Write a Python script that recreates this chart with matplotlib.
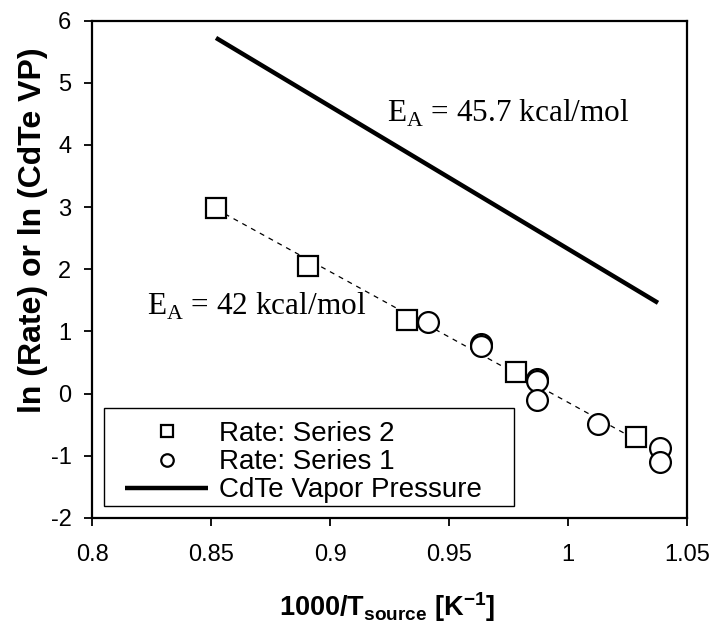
import numpy as np
import matplotlib
matplotlib.use("Agg")
import matplotlib.pyplot as plt
from matplotlib.patches import Rectangle
from matplotlib.lines import Line2D

plt.rcParams["axes.unicode_minus"] = False

# ---- data ----
s2_x = [0.852, 0.8906, 0.9324, 0.978, 1.0285]
s2_y = [2.98, 2.05, 1.18, 0.35, -0.70]
s1_x = [0.941, 0.9636, 0.9636, 0.987, 0.987, 0.987, 1.0125, 1.0386, 1.0386]
s1_y = [1.15, 0.79, 0.76, 0.24, 0.20, -0.10, -0.49, -0.88, -1.10]
vp_x = [0.852, 1.0378]
vp_y = [5.72, 1.46]
x_ticks = [0.8, 0.85, 0.9, 0.95, 1.0, 1.05]
x_tick_labels = ["0.8", "0.85", "0.9", "0.95", "1", "1.05"]
y_ticks = [-2, -1, 0, 1, 2, 3, 4, 5, 6]
legend_labels = ["Rate: Series 2", "Rate: Series 1", "CdTe Vapor Pressure", "Fit"]

W, H = 715, 628
fig = plt.figure(figsize=(W / 100, H / 100), dpi=100)
AX_L, AX_R, AX_T, AX_B = 92.3, 687.0, 20.5, 518.0
ax = fig.add_axes([AX_L / W, 1 - AX_B / H, (AX_R - AX_L) / W, (AX_B - AX_T) / H])


def ax_x(px):
    return (px - AX_L) / (AX_R - AX_L)


def ax_y(py):
    return (AX_B - py) / (AX_B - AX_T)


sans = ["Liberation Sans", "DejaVu Sans"]
serif = ["Liberation Serif", "DejaVu Serif"]

# fit line (dashed)
all_x = np.array(s2_x + s1_x)
all_y = np.array(s2_y + s1_y)
coef = np.polyfit(all_x, all_y, 1)
fx = np.array([min(s2_x), max(s2_x)])
ax.plot(fx, np.polyval(coef, fx), color="black", lw=0.9, ls=(0, (4, 4)), zorder=2)

# vapour pressure line
l3, = ax.plot(vp_x, vp_y, color="black", lw=3.2, solid_capstyle="butt", zorder=3)

l1, = ax.plot(s2_x, s2_y, ls="none", marker="s", ms=15, mfc="white", mec="black",
              mew=1.6, zorder=4)
l2, = ax.plot(s1_x, s1_y, ls="none", marker="o", ms=15, mfc="white", mec="black",
              mew=1.6, zorder=5)
l4 = Line2D([], [], ls="none")

ax.set_xlim(0.8, 1.05)
ax.set_ylim(-2, 6)
ax.set_xticks(x_ticks)
ax.set_xticklabels(x_tick_labels)
ax.set_yticks(y_ticks)
for lab in ax.get_xticklabels() + ax.get_yticklabels():
    lab.set_family(sans)
    lab.set_fontsize(17)
ax.tick_params(direction="out", length=6, width=1.3)
ax.tick_params(axis="x", pad=13)
ax.tick_params(axis="y", pad=9)
for sp in ax.spines.values():
    sp.set_linewidth(1.6)

ax.set_xlabel(r"1000/T$_{\mathregular{source}}$ [K$^{\mathregular{-1}}$]", family=sans,
              fontsize=19.5, fontweight="bold")
ax.xaxis.set_label_coords(ax_x(387.5), ax_y(590))
ax.set_ylabel("ln (Rate) or ln (CdTe VP)", family=sans, fontsize=23,
              fontweight="bold")
ax.yaxis.set_label_coords(ax_x(48), ax_y(230))

ax.text(0.924, 4.37, r"E$_{\mathregular{A}}$ = 45.7 kcal/mol", family=serif, fontsize=22.5,
        ha="left", va="baseline", zorder=6)
ax.text(0.823, 1.26, r"E$_{\mathregular{A}}$ = 42 kcal/mol", family=serif, fontsize=22.5,
        ha="left", va="baseline", zorder=6)

# legend frame (the legend content overflows and is clipped at the bottom)
frame = Rectangle((ax_x(104), ax_y(506)), ax_x(514) - ax_x(104), ax_y(408) - ax_y(506),
                  transform=ax.transAxes, facecolor="white", edgecolor="black",
                  lw=1.0, zorder=9)
ax.add_patch(frame)

leg = ax.legend(handles=[l1, l2, l3, l4], labels=legend_labels, loc="upper left",
                bbox_to_anchor=(ax_x(125), ax_y(421)), borderaxespad=0, borderpad=0,
                frameon=False, prop={"family": sans, "size": 20},
                handlelength=3.0, handletextpad=0.37, labelspacing=0.08,
                markerscale=0.6)
leg.set_zorder(10)
leg.get_texts()[3].set_clip_path(frame)

fig.savefig("out.png", dpi=100)
